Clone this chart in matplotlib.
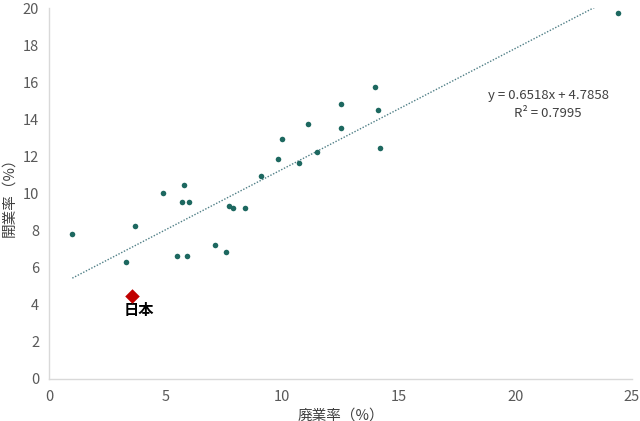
import matplotlib
matplotlib.use("Agg")
import matplotlib.pyplot as plt
import numpy as np

plt.rcParams['font.family'] = ['Noto Sans CJK JP', 'DejaVu Sans']

# closure rate (x) and start-up rate (y), %
closure = [1.0, 3.3, 3.7, 4.9, 5.8, 5.7, 6.0, 5.5, 5.9, 7.1, 7.6, 7.7, 7.9, 8.4,
           9.1, 9.8, 10.0, 10.7, 11.1, 11.5, 12.5, 12.5, 14.0, 14.1, 14.2, 24.4]
startup = [7.8, 6.3, 8.25, 10.05, 10.45, 9.55, 9.55, 6.65, 6.65, 7.25, 6.85, 9.3, 9.2, 9.2,
           10.95, 11.85, 12.95, 11.65, 13.75, 12.25, 14.85, 13.55, 15.75, 14.5, 12.45, 19.75]
japan_x, japan_y = 3.55, 4.5
japan_label = "日本"
slope, intercept = 0.6518, 4.7858
r2 = 0.7995
trend_x = [1.0, 23.4]
xticks = [0, 5, 10, 15, 20, 25]
yticks = [0, 2, 4, 6, 8, 10, 12, 14, 16, 18, 20]

fig = plt.figure(figsize=(6.4, 4.21), dpi=100)
ax = fig.add_axes([49/640, 42/421, 583/640, 371/421])

tx = np.array(trend_x)
ax.plot(tx, slope*tx + intercept, linestyle=(0, (1, 1.2)), color='#4f7f86', linewidth=1.0, zorder=1)
ax.scatter(closure, startup, s=16, color='#1d6860', zorder=3, linewidths=0)
ax.scatter([japan_x], [japan_y], marker='D', s=55, color='#c00000', zorder=4, linewidths=0)
ax.text(japan_x + 0.3, japan_y - 0.35, japan_label, ha='center', va='top', fontsize=11,
        color='black', fontweight='bold')

ax.text(21.4, 14.8, f"y = {slope}x + {intercept}\nR² = {r2}", ha='center', va='center',
        fontsize=9.5, color='#404040', linespacing=1.45)

ax.set_xlim(0, 25)
ax.set_ylim(0, 20)
ax.set_xticks(xticks)
ax.set_yticks(yticks)
ax.tick_params(axis='both', length=0, labelsize=10.5, colors='#595959')
ax.tick_params(axis='x', pad=8)
ax.tick_params(axis='y', pad=7)
for s in ['top', 'right']:
    ax.spines[s].set_visible(False)
for s in ['left', 'bottom']:
    ax.spines[s].set_color('#d9d9d9')
    ax.spines[s].set_linewidth(1.0)

ax.set_xlabel("廃業率（%）", fontsize=10.5, color='#404040', labelpad=3)
ax.set_ylabel("開業率（%）", fontsize=10.5, color='#404040', labelpad=5)

fig.savefig("out.png", dpi=100)
